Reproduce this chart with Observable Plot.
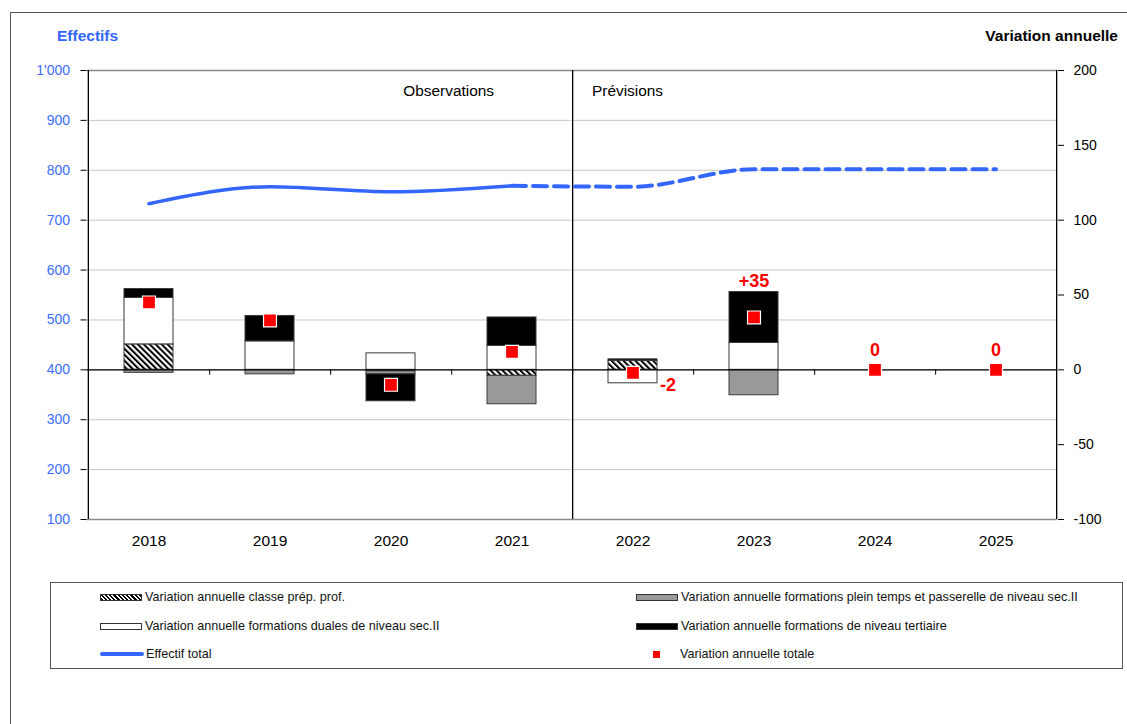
<!DOCTYPE html>
<html>
<head>
<meta charset="utf-8">
<script src="https://cdn.jsdelivr.net/npm/d3@7"></script>
<script src="https://cdn.jsdelivr.net/npm/@observablehq/plot@0.6"></script>
<style>
  html, body { margin: 0; padding: 0; background: #fff; }
  body { font-family: "Liberation Sans", Arial, sans-serif; }
  #wrap { position: relative; width: 1127px; height: 724px; overflow: hidden; }
  #frame { position: absolute; left: 10px; top: 12px; width: 1200px; height: 800px; border-top: 1px solid #555; border-left: 1px solid #555; }
  #chart { position: absolute; left: 0; top: 0; }
  .title { position: absolute; font-weight: bold; font-size: 15.5px; line-height: 16px; }
  #legend { position: absolute; left: 50px; top: 582px; width: 1071px; height: 85px; border: 1px solid #555; background: #fff; font-size: 12.6px; color: #111; }
  .item { position: absolute; height: 16px; display: flex; align-items: center; white-space: nowrap; }
  .sw { width: 42px; height: 7px; border: 1px solid #333; box-sizing: border-box; margin-right: 3px; }
  .ln { width: 44px; height: 4px; border-radius: 2px; background: #3366ff; margin-right: 2px; }
  .mk { width: 7px; height: 7px; background: #ff0000; margin-left: 17px; margin-right: 20px; }
</style>
</head>
<body>
<div id="wrap">
  <div id="frame"></div>
  <div id="chart"></div>
  <div class="title" style="left:57px; top:28px; color:#3366ff;">Effectifs</div>
  <div class="title" style="right:9px; top:28px; color:#000;">Variation annuelle</div>
  <div id="legend"></div>
</div>
<script>
// ---- data ----
const years = ["2018", "2019", "2020", "2021", "2022", "2023", "2024", "2025"];
const seriesNames = [
  "Variation annuelle classe prép. prof.",
  "Variation annuelle formations plein temps et passerelle de niveau sec.II",
  "Variation annuelle formations duales de niveau sec.II",
  "Variation annuelle formations de niveau tertiaire"
];
const prepProf   = [17,  0,  -1,  -4,  6,   0, 0, 0];
const pleinTemps = [-2, -3,  -2, -19,  0, -17, 0, 0];
const duales     = [31, 19,  11,  16, -9,  18, 0, 0];
const tertiaire  = [6,  17, -18,  19,  1,  34, 0, 0];
const totale     = [45, 33, -10,  12, -2,  35, 0, 0];
const effectif   = [733, 767, 757, 769, 767, 802, 802, 802];
const leftTicks  = [100, 200, 300, 400, 500, 600, 700, 800, 900, 1000];
const rightTicks = [-100, -50, 0, 50, 100, 150, 200];
const totalLabels = ["", "", "", "", "-2", "+35", "0", "0"];
const lastObservedYear = "2021";

// ---- derived tables ----
const seriesValues = [prepProf, pleinTemps, duales, tertiaire];
const stackData = [];
years.forEach((y, i) => seriesNames.forEach((s, k) => stackData.push({year: y, series: s, value: seriesValues[k][i]})));
// left axis (effectifs 100..1000) mapped onto the right axis (variation -100..200)
const toRight = e => (e - 100) / 3 - 100;
const toLeft = r => (r + 100) * 3 + 100;
const effData = years.map((y, i) => ({year: y, eff: effectif[i]}));
const obsIdx = years.indexOf(lastObservedYear);
const totData = years.map((y, i) => ({year: y, total: totale[i], label: totalLabels[i]}));

const W = 1127, H = 570;
const mL = 86.5, mR = 70, mT = 70, mB = 51;
const step = (W - mL - mR) / years.length;
const fmtLeft = d => { const v = Math.round(toLeft(d)); return v >= 1000 ? d3.format(",")(v).replace(/,/g, "'") : String(v); };

const plot = Plot.plot({
  width: W, height: H,
  marginLeft: mL, marginRight: mR, marginTop: mT, marginBottom: mB,
  style: {fontFamily: "'Liberation Sans', Arial, sans-serif", fontSize: "14px", background: "transparent", overflow: "visible"},
  x: {type: "band", domain: years, padding: 0, axis: null},
  y: {domain: [-100, 200], axis: null},
  color: {domain: seriesNames, range: ["url(#hatch)", "#999999", "#ffffff", "#000000"], legend: false},
  marks: [
    Plot.ruleY(leftTicks.filter(v => v > 100 && v < 1000).map(toRight), {stroke: "#c8c8c8", strokeWidth: 1}),
    Plot.ruleY([toRight(1000), toRight(100)], {stroke: "#8a8a8a", strokeWidth: 1.5}),
    Plot.barY(stackData, {x: "year", y: "value", fill: "series", order: seriesNames, stroke: "#3a3a3a", strokeWidth: 1, insetLeft: 36, insetRight: 36}),
    Plot.ruleY([0], {stroke: "#000", strokeWidth: 1.2}),
    Plot.ruleX(years.slice(0, -1), {x: d => d, dx: step / 2, y1: 0, y2: -3.6, stroke: "#000", strokeWidth: 1}),
    Plot.ruleX([lastObservedYear], {x: d => d, dx: step / 2, stroke: "#000", strokeWidth: 1.3}),
    Plot.ruleX([years[0]], {x: d => d, dx: -step / 2, stroke: "#000", strokeWidth: 1.3}),
    Plot.ruleX([years[years.length - 1]], {x: d => d, dx: step / 2, stroke: "#000", strokeWidth: 1.3}),
    Plot.line(effData.slice(0, obsIdx + 1), {x: "year", y: d => toRight(d.eff), stroke: "#3366ff", strokeWidth: 3.5, curve: "monotone-x"}),
    Plot.line(effData.slice(obsIdx), {x: "year", y: d => toRight(d.eff), stroke: "#3366ff", strokeWidth: 4, strokeDasharray: "14,7", curve: "monotone-x"}),
    Plot.dot(totData, {x: "year", y: "total", symbol: "square", r: 7.3, fill: "#ff0000", stroke: "#fff", strokeWidth: 1.2}),
    Plot.text(totData.filter(d => d.label && d.total > 0), {x: "year", y: "total", text: "label", dy: -36, fill: "#ff0000", fontWeight: "bold", fontSize: 18}),
    Plot.text(totData.filter(d => d.label && d.total < 0), {x: "year", y: "total", text: "label", dx: 35, dy: 12, fill: "#ff0000", fontWeight: "bold", fontSize: 18}),
    Plot.text(totData.filter(d => d.label && d.total === 0), {x: "year", y: "total", text: "label", dy: -20, fill: "#ff0000", fontWeight: "bold", fontSize: 18}),
    Plot.text([lastObservedYear], {x: d => d, frameAnchor: "top", dy: 15, dx: -18, text: d => "Observations", textAnchor: "end", fill: "#000", fontSize: 15.4}),
    Plot.text([years[obsIdx + 1]], {x: d => d, frameAnchor: "top", dy: 15, dx: -41, text: d => "Prévisions", textAnchor: "start", fill: "#000", fontSize: 15.4}),
    Plot.axisY(leftTicks.map(toRight), {anchor: "left", tickSize: 6, tickPadding: 11, tickFormat: fmtLeft, fill: "#3d6dff", stroke: "#000", fontSize: 14, label: null}),
    Plot.axisY(rightTicks, {anchor: "right", tickSize: 6, tickPadding: 10, tickFormat: d => String(d), fill: "#000", stroke: "#000", fontSize: 14, label: null}),
    Plot.axisX({anchor: "bottom", tickSize: 0, tickPadding: 15, fontSize: 15.5, label: null, fill: "#000"})
  ]
});

// hatch pattern
const svg = d3.select(plot);
const defs = svg.insert("defs", ":first-child");
const pat = defs.append("pattern").attr("id", "hatch").attr("patternUnits", "userSpaceOnUse")
  .attr("width", 4.2).attr("height", 4.2).attr("patternTransform", "rotate(-45)");
pat.append("rect").attr("width", 4.2).attr("height", 4.2).attr("fill", "#fff");
pat.append("rect").attr("width", 2).attr("height", 4.2).attr("fill", "#000");
document.getElementById("chart").appendChild(plot);

// legend
const leg = document.getElementById("legend");
const hatchCss = "repeating-linear-gradient(45deg, #000 0 1.5px, #fff 1.5px 3px)";
const items = [
  {name: seriesNames[0], left: 49, top: 6, sw: `<div class="sw" style="background:${hatchCss}"></div>`},
  {name: seriesNames[1], left: 585, top: 6, sw: `<div class="sw" style="background:#999"></div>`},
  {name: seriesNames[2], left: 49, top: 35, sw: `<div class="sw" style="background:#fff"></div>`},
  {name: seriesNames[3], left: 585, top: 35, sw: `<div class="sw" style="background:#000"></div>`},
  {name: "Effectif total", left: 49, top: 63, sw: `<div class="ln"></div>`},
  {name: "Variation annuelle totale", left: 585, top: 63, sw: `<div class="mk"></div>`}
];
items.forEach(it => {
  const d = document.createElement("div");
  d.className = "item";
  d.style.left = it.left + "px";
  d.style.top = it.top + "px";
  d.innerHTML = it.sw + `<span>${it.name}</span>`;
  leg.appendChild(d);
});
</script>
</body>
</html>
